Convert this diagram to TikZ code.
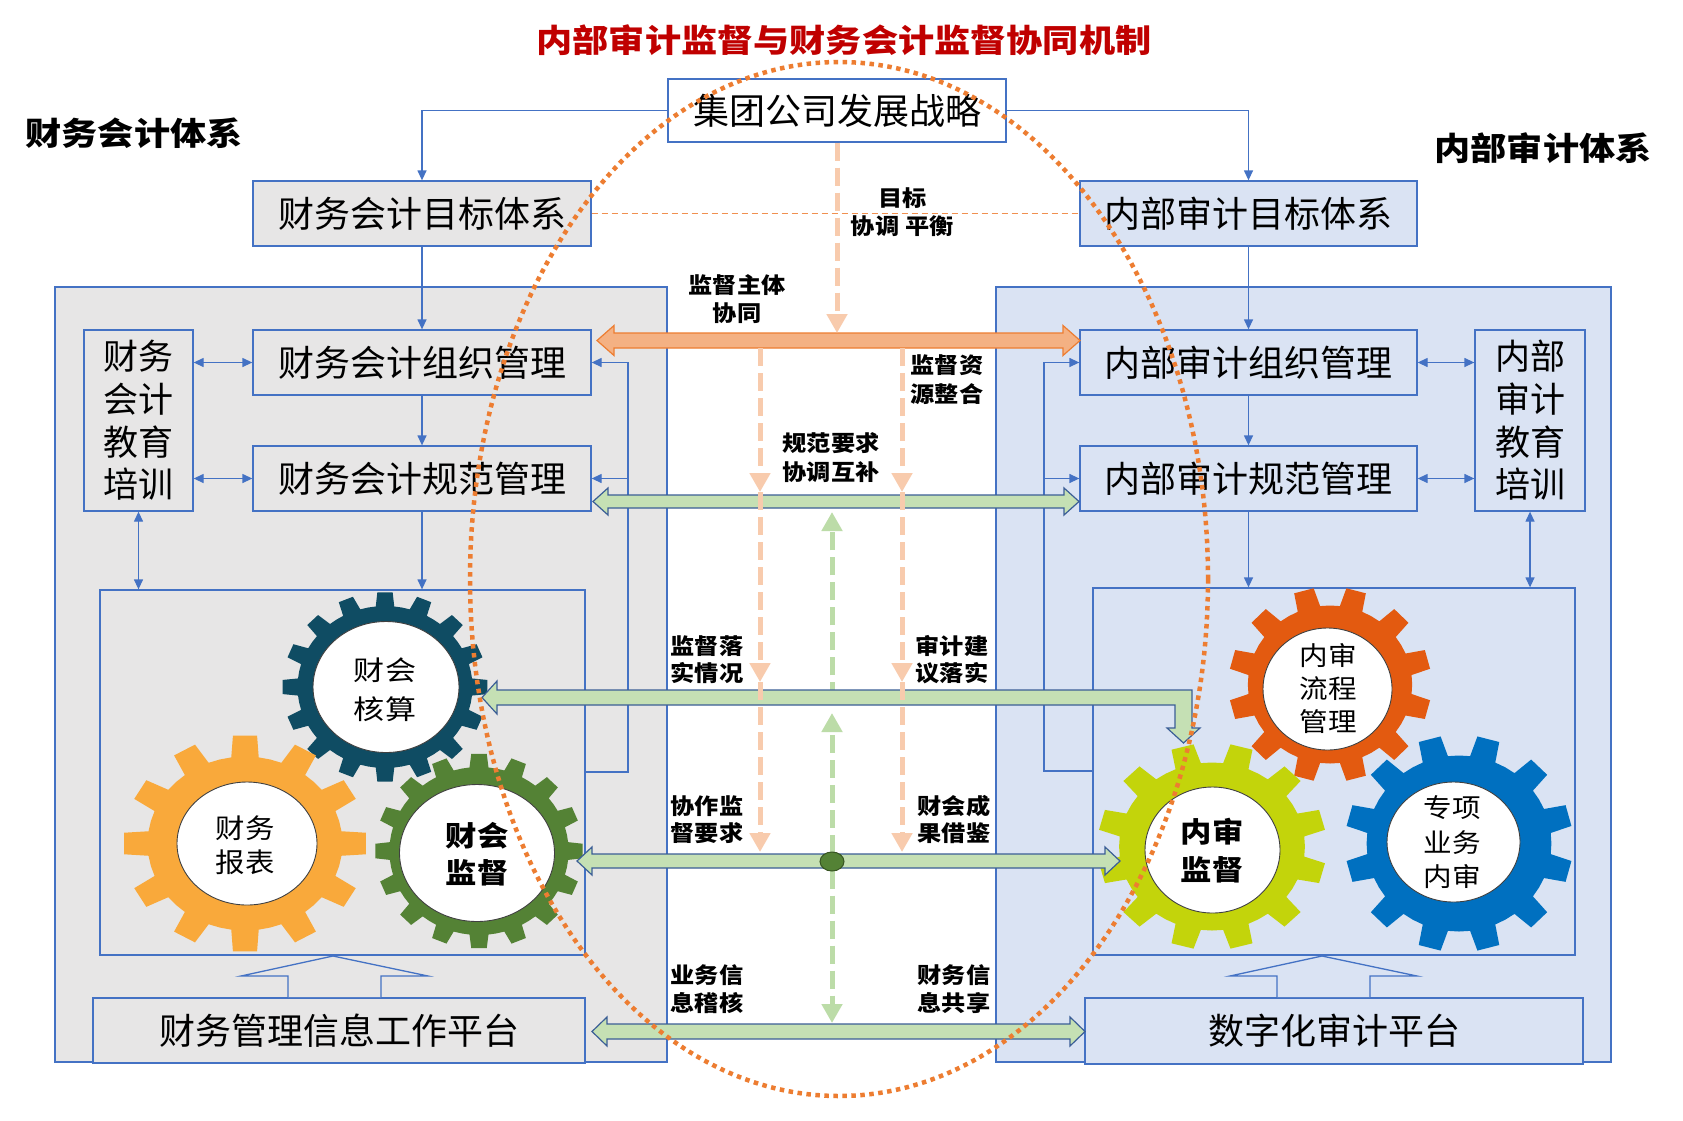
\documentclass[tikz,border=0pt]{standalone}
\usepackage{fontspec}
\usepackage{graphicx}
\setmainfont{Noto Sans CJK SC}
\usetikzlibrary{arrows.meta}

\definecolor{bl}{HTML}{4472C4}
\definecolor{panelL}{HTML}{E7E6E6}
\definecolor{panelR}{HTML}{DAE3F3}
\definecolor{ttl}{HTML}{C00000}
\definecolor{orD}{HTML}{ED7D31}
\definecolor{orA}{HTML}{F4B183}
\definecolor{orL}{HTML}{F8CBAD}
\definecolor{grA}{HTML}{C5E0B4}
\definecolor{grL}{HTML}{BCDCA8}
\definecolor{grE}{HTML}{3B5E96}
\definecolor{dotg}{HTML}{548235}
\definecolor{gTeal}{HTML}{0F4C63}
\definecolor{gOr}{HTML}{F9A93B}
\definecolor{gGr}{HTML}{548235}
\definecolor{gRed}{HTML}{E35A10}
\definecolor{gYel}{HTML}{C3D40B}
\definecolor{gBlu}{HTML}{0070C0}

\newcommand{\stretchx}[2][1.1]{\scalebox{#1}[1]{#2}}

% cx, cy, xscale, N, offset, root r, tip r, colour
\newcommand{\drawgear}[8]{%
  \pgfmathsetmacro{\gp}{360/#4}%
  \pgfmathsetmacro{\gb}{0.27*\gp}%
  \pgfmathsetmacro{\gt}{0.19*\gp}%
  \pgfmathtruncatemacro{\gn}{#4-1}%
  \begin{scope}[shift={(#1,#2)}, xscale=#3]
    \fill[#8] ({#5-\gb}:#6) \foreach \k in {0,...,\gn} {
        -- ({#5+\k*\gp-\gb}:#6) -- ({#5+\k*\gp-\gt}:#7) -- ({#5+\k*\gp+\gt}:#7)
        -- ({#5+\k*\gp+\gb}:#6) -- ({#5+\k*\gp+\gp/2}:#6)} -- cycle;
  \end{scope}}

\begin{document}
\begin{tikzpicture}[x=1pt,y=-1pt,
  panel/.style={draw=bl, line width=1.3pt, inner sep=0pt},
  box/.style={draw=bl, line width=1.3pt, inner sep=0pt, font=\fontsize{36}{36}\selectfont},
  lbox/.style={box, fill=panelL},
  rbox/.style={box, fill=panelR},
  bline/.style={draw=bl, line width=1.3pt},
  barrow/.style={bline, -{Triangle[length=10pt,width=9pt]}},
  bdarrow/.style={bline, {Triangle[length=10pt,width=9pt]}-{Triangle[length=10pt,width=9pt]}},
  midlab/.style={font=\fontsize{22}{28}\selectfont\bfseries, align=center, inner sep=0pt},
  geartext/.style={align=center, inner sep=0pt},
  oDash/.style={draw=orL, line width=5pt, dash pattern=on 18pt off 7pt, -{Triangle[length=19pt,width=20pt]}},
  gDash/.style={draw=grL, line width=5pt, dash pattern=on 18pt off 7pt, -{Triangle[length=19pt,width=20pt]}},
  gblock/.style={fill=grA, draw=grE, line width=1.2pt},
  oblock/.style={fill=orA, draw=orD, line width=1.2pt},
  hollow/.style={draw=bl, line width=1.3pt},
  ring/.style={fill=white, draw=black!75, line width=0.9pt}
]
\useasboundingbox[fill=white] (0,0) rectangle (1683,1120);

% ---------- titles ----------
\node[font=\fontsize{32}{32}\selectfont\bfseries, text=ttl, inner sep=0pt] (title) at (844,40) {\stretchx[1.13]{内部审计监督与财务会计监督协同机制}};
\node[font=\fontsize{32}{32}\selectfont\bfseries, inner sep=0pt] (tL) at (134,133) {\stretchx[1.13]{财务会计体系}};
\node[font=\fontsize{32}{32}\selectfont\bfseries, inner sep=0pt] (tR) at (1543,148) {\stretchx[1.13]{内部审计体系}};

% ---------- panels ----------
\node[panel, fill=panelL, minimum width=612pt, minimum height=775pt] (panL) at (361,674.5) {};
\node[panel, fill=panelR, minimum width=615pt, minimum height=775pt] (panR) at (1303.5,674.5) {};

% ---------- boxes ----------
\node[box, fill=white, minimum width=338pt, minimum height=63pt] (jt) at (837,110.5) {集团公司发展战略};
\node[lbox, minimum width=338pt, minimum height=65pt] (mbL) at (422,213.5) {财务会计目标体系};
\node[rbox, minimum width=337pt, minimum height=65pt] (mbR) at (1248.5,213.5) {内部审计目标体系};
\node[lbox, minimum width=338pt, minimum height=65pt] (zzL) at (422,362.5) {财务会计组织管理};
\node[lbox, minimum width=338pt, minimum height=65pt] (gfL) at (422,478.5) {财务会计规范管理};
\node[rbox, minimum width=337pt, minimum height=65pt] (zzR) at (1248.5,362.5) {内部审计组织管理};
\node[rbox, minimum width=337pt, minimum height=65pt] (gfR) at (1248.5,478.5) {内部审计规范管理};
\node[lbox, minimum width=109pt, minimum height=181pt, align=center, font=\fontsize{35}{42.7}\selectfont] (eduL) at (138.5,420.5) {财务\\会计\\教育\\培训};
\node[rbox, minimum width=110pt, minimum height=181pt, align=center, font=\fontsize{35}{42.7}\selectfont] (eduR) at (1530,420.5) {内部\\审计\\教育\\培训};
\node[lbox, minimum width=485pt, minimum height=365pt] (gbL) at (342.5,772.5) {};
\node[rbox, minimum width=482pt, minimum height=367pt] (gbR) at (1334,771.5) {};
\node[lbox, minimum width=492pt, minimum height=65pt] (pfL) at (339,1030.5) {财务管理信息工作平台};
\node[rbox, minimum width=498pt, minimum height=66pt] (pfR) at (1334,1031) {数字化审计平台};

% ---------- blue connectors ----------
\draw[barrow] (jt.west) -| (mbL.north);
\draw[barrow] (jt.east) -| (mbR.north);
\draw[barrow] (mbL.south) -- (zzL.north);
\draw[barrow] (zzL.south) -- (gfL.north);
\draw[barrow] (gfL.south) -- (gfL.south |- gbL.north);
\draw[barrow] (mbR.south) -- (zzR.north);
\draw[barrow] (zzR.south) -- (gfR.north);
\draw[barrow] (gfR.south) -- (gfR.south |- gbR.north);
\draw[bdarrow] (eduL.east |- zzL.west) -- (zzL.west);
\draw[bdarrow] (eduL.east |- gfL.west) -- (gfL.west);
\draw[bdarrow] (eduL.south) -- (eduL.south |- gbL.north);
\draw[bdarrow] (zzR.east) -- (eduR.west |- zzR.east);
\draw[bdarrow] (gfR.east) -- (eduR.west |- gfR.east);
\draw[bdarrow] (eduR.south) -- (eduR.south |- gbR.north);
\coordinate (fbL) at (628,772);
\draw[barrow] (gbL.east |- fbL) -- (fbL) |- (zzL.east);
\draw[barrow] (fbL |- gfL.east) -- (gfL.east);
\coordinate (fbR) at (1044,771);
\draw[barrow] (gbR.west |- fbR) -- (fbR) |- (zzR.west);
\draw[barrow] (fbR |- gfR.west) -- (gfR.west);

% thin dashed goal line
\draw[draw=orD!85, line width=1.3pt, dash pattern=on 6pt off 4pt] (mbL.east) -- (mbR.west);

% hollow up arrows
\filldraw[hollow, fill=panelL] (288,997) -- (288,976) -- (241,976) -- (333,956) -- (428,976) -- (381,976) -- (381,997);
\filldraw[hollow, fill=panelR] (1277,997) -- (1277,976) -- (1230,976) -- (1322,956) -- (1417,976) -- (1370,976) -- (1370,997);

% ---------- gears ----------
\drawgear{385}{687}{1.08}{16}{90}{81}{95}{gTeal}
\filldraw[ring] (386,687) ellipse [x radius=73, y radius=65.5];
\drawgear{245}{843.5}{1.12}{12}{90}{87}{108.5}{gOr}
\filldraw[ring] (247,843.5) ellipse [x radius=70, y radius=61.5];
\drawgear{479}{851}{1.067}{16}{90}{84}{97.5}{gGr}
\filldraw[ring] (477,853) ellipse [x radius=77.5, y radius=68.5];
\drawgear{1330}{684.5}{1.04}{12}{75}{79}{97.5}{gRed}
\filldraw[ring] (1327.5,689) ellipse [x radius=64.5, y radius=61];
\drawgear{1212}{846.5}{1.106}{12}{75}{84}{103.5}{gYel}
\filldraw[ring] (1212.5,850) ellipse [x radius=67.5, y radius=63];
\drawgear{1459}{843.5}{1.05}{12}{75}{88}{108.5}{gBlu}
\filldraw[ring] (1453.5,842) ellipse [x radius=66.5, y radius=60];

\node[geartext, font=\fontsize{27}{39}\selectfont] (gHS) at (385,689.5) {\stretchx[1.15]{财会}\\\stretchx[1.15]{核算}};
\node[geartext, font=\fontsize{27}{34}\selectfont] (gBB) at (245,845) {\stretchx[1.09]{财务}\\\stretchx[1.09]{报表}};
\node[geartext, font=\fontsize{28}{37}\selectfont\bfseries] (gJD) at (477,854.5) {\stretchx[1.12]{财会}\\\stretchx[1.12]{监督}};
\node[geartext, font=\fontsize{26}{33}\selectfont] (gLC) at (1328,689) {\stretchx{内审}\\\stretchx{流程}\\\stretchx{管理}};
\node[geartext, font=\fontsize{28}{38}\selectfont\bfseries] (gNS) at (1212,851) {\stretchx[1.12]{内审}\\\stretchx[1.12]{监督}};
\node[geartext, font=\fontsize{26}{34.5}\selectfont] (gZX) at (1452,842.5) {\stretchx{专项}\\\stretchx{业务}\\\stretchx{内审}};

% ---------- middle flows ----------
\coordinate (hub) at (832,861.5);
\draw[gDash] (hub) ++(0,-9) -- (832,713);
\draw[gDash] (832,700) -- (832,512);
\draw[gDash] (hub) ++(0,9) -- (832,1023);

% orange double block arrow
\filldraw[oblock] (597,340.5) -- (614,325.5) -- (614,333) -- (1063,333) -- (1063,325.5) -- (1080,340.5) -- (1063,355.5) -- (1063,348) -- (614,348) -- (614,355.5) -- cycle;

% green block arrows
\filldraw[gblock] (593,501.5) -- (608,488) -- (608,495) -- (1064,495) -- (1064,488) -- (1079,501.5) -- (1064,515) -- (1064,508) -- (608,508) -- (608,515) -- cycle;
\filldraw[gblock] (482,697.5) -- (497,681) -- (497,690) -- (1192,690) -- (1192,728) -- (1200,728) -- (1183.5,743) -- (1167,728) -- (1175,728) -- (1175,705) -- (497,705) -- (497,714) -- cycle;
\filldraw[gblock] (577,861) -- (592,847) -- (592,854) -- (1105,854) -- (1105,847) -- (1120,861) -- (1105,875) -- (1105,868) -- (592,868) -- (592,875) -- cycle;
\filldraw[gblock] (592,1031.5) -- (607,1017) -- (607,1024) -- (1070,1024) -- (1070,1017) -- (1085,1031.5) -- (1070,1046) -- (1070,1039) -- (607,1039) -- (607,1046) -- cycle;

\filldraw[fill=dotg, draw=dotg!65!black, line width=1pt] (hub) ellipse [x radius=12, y radius=9.5];

% orange dashed flows
\draw[oDash] (jt.south) -- (jt.south |- 0,333);
\foreach \xx in {760,902} {
  \draw[oDash] (\xx,348) -- (\xx,492);
  \draw[oDash] (\xx,492) -- (\xx,682);
  \draw[oDash] (\xx,682) -- (\xx,852);
}

% ---------- middle labels ----------
\node[midlab] (lbMB) at (902.5,212.5) {\stretchx{目标}\\\stretchx{协调\hspace{6pt}平衡}};
\node[midlab] (lbZT) at (737,299) {\stretchx{监督主体}\\\stretchx{协同}};
\node[midlab, font=\fontsize{22}{29}\selectfont\bfseries] (lbZY) at (947,379.5) {\stretchx{监督资}\\\stretchx{源整合}};
\node[midlab, font=\fontsize{22}{29}\selectfont\bfseries] (lbGF) at (831,457.5) {\stretchx{规范要求}\\\stretchx{协调互补}};
\node[midlab, font=\fontsize{22}{27}\selectfont\bfseries] (lbLS) at (707,659.5) {\stretchx{监督落}\\\stretchx{实情况}};
\node[midlab, font=\fontsize{22}{27}\selectfont\bfseries] (lbJY) at (952,659.5) {\stretchx{审计建}\\\stretchx{议落实}};
\node[midlab, font=\fontsize{22}{27}\selectfont\bfseries] (lbXZ) at (707,819.5) {\stretchx{协作监}\\\stretchx{督要求}};
\node[midlab, font=\fontsize{22}{27}\selectfont\bfseries] (lbCG) at (954,819.5) {\stretchx{财会成}\\\stretchx{果借鉴}};
\node[midlab] (lbJH) at (707,989) {\stretchx{业务信}\\\stretchx{息稽核}};
\node[midlab] (lbGX) at (954,989) {\stretchx{财务信}\\\stretchx{息共享}};

% ---------- dotted ellipse ----------
\draw[draw=orD, line width=4.5pt, dash pattern=on 4.5pt off 4.5pt] (839,579) ellipse [x radius=369, y radius=517];
\end{tikzpicture}
\end{document}
